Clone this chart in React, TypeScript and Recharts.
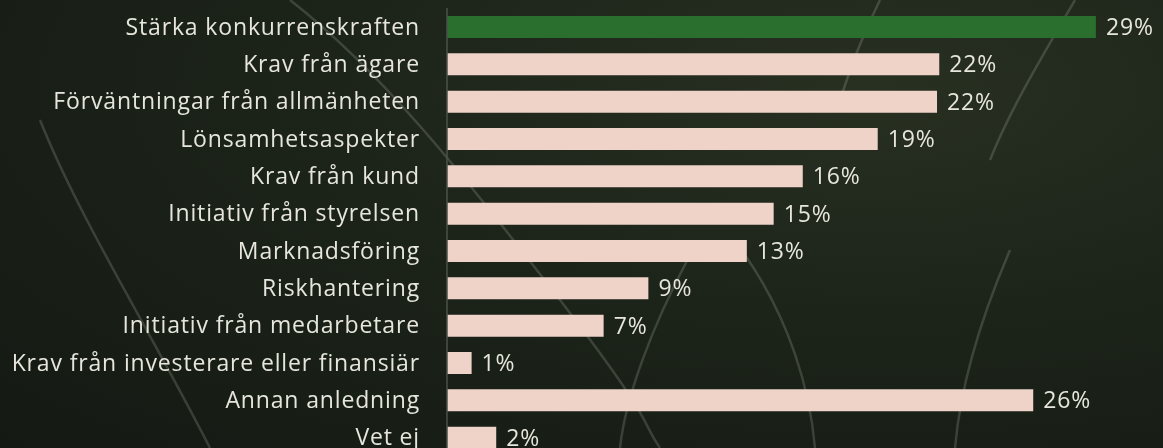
import { Bar, BarChart, Cell, LabelList, XAxis, YAxis } from "recharts";

const reasons = [
  "Stärka konkurrenskraften",
  "Krav från ägare",
  "Förväntningar från allmänheten",
  "Lönsamhetsaspekter",
  "Krav från kund",
  "Initiativ från styrelsen",
  "Marknadsföring",
  "Riskhantering",
  "Initiativ från medarbetare",
  "Krav från investerare eller finansiär",
  "Annan anledning",
  "Vet ej",
];

// bar lengths as measured; labels show the rounded percentages
const shares = [29, 22, 21.9, 19.25, 15.9, 14.6, 13.4, 9, 7, 1.1, 26.2, 2.2];

const highlighted = "Stärka konkurrenskraften";

const data = reasons.map((reason, i) => ({ reason, share: shares[i] }));

const FONT = "'Open Sans', Lato, sans-serif";
const TEXT = "#e6e6dc";
const textStyle = { fill: TEXT, fontSize: 23, fontFamily: FONT, letterSpacing: 0.85 };

// faint leaf veins behind the chart (decoration only)
const veins = [
  "M 290 0 C 380 70, 460 170, 560 300 S 640 420, 660 448",
  "M 1075 0 C 1040 60, 1010 110, 990 160",
  "M 1010 250 C 980 320, 960 390, 955 448",
  "M 745 255 C 790 320, 810 390, 815 448",
  "M 690 255 C 650 330, 625 400, 620 448",
  "M 40 120 C 80 220, 150 330, 210 448",
  "M 880 0 C 860 40, 850 70, 840 100",
];

export default function App() {
  return (
    <div
      style={{
        position: "fixed",
        top: 0,
        left: 0,
        width: 1163,
        height: 448,
        overflow: "hidden",
        background:
          "radial-gradient(ellipse at 75% 20%, #283022 0%, #1c2319 45%, #141a13 100%)",
        fontFamily: FONT,
      }}
    >
      <svg
        width={1163}
        height={448}
        style={{ position: "absolute", top: 0, left: 0 }}
      >
        {veins.map((d) => (
          <path
            key={d}
            d={d}
            fill="none"
            stroke="#b8c0ae"
            strokeOpacity={0.22}
            strokeWidth={2.5}
          />
        ))}
      </svg>
      <div style={{ position: "absolute", top: 0, left: 0 }}>
        <BarChart
          width={1163}
          height={460}
          data={data}
          layout="vertical"
          margin={{ top: 8, right: 0, bottom: 4, left: 0 }}
          barCategoryGap={0}
        >
          <XAxis type="number" domain={[0, 32]} hide />
          <YAxis
            type="category"
            dataKey="reason"
            width={447}
            tickLine={false}
            tickSize={0}
            tickMargin={27}
            axisLine={{ stroke: "#4b5247", strokeWidth: 1.5 }}
            tick={textStyle}
            interval={0}
          />
          <Bar dataKey="share" barSize={22} isAnimationActive={false}>
            {data.map((d) => (
              <Cell
                key={d.reason}
                fill={d.reason === highlighted ? "#2a6f2d" : "#efd3c8"}
              />
            ))}
            <LabelList
              dataKey="share"
              position="right"
              offset={10}
              formatter={(v: number) => `${Math.round(v)}%`}
              style={textStyle}
            />
          </Bar>
        </BarChart>
      </div>
    </div>
  );
}
